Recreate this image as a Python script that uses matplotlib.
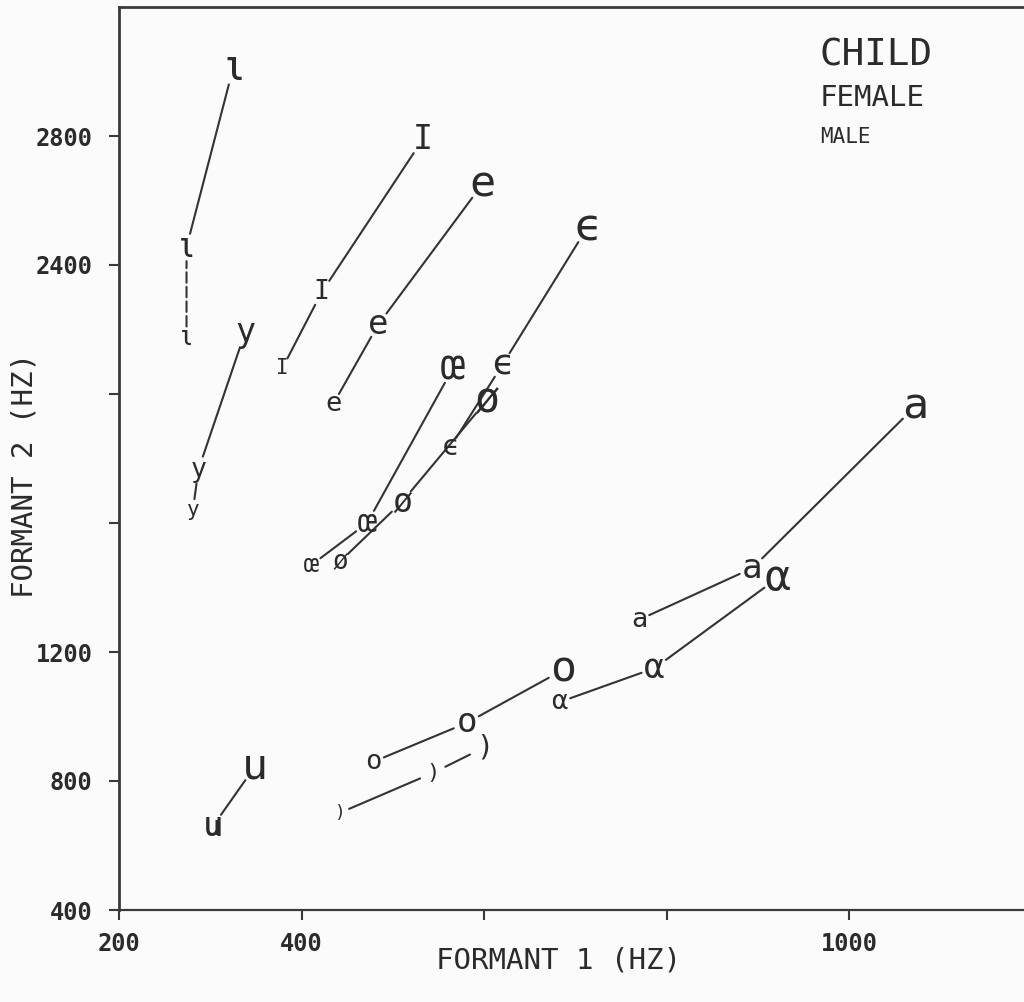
import matplotlib
matplotlib.use('Agg')
import matplotlib.pyplot as plt

plt.rcParams['font.family'] = ['DejaVu Sans Mono', 'DejaVu Sans']

# ---- data ----
vowels  = ['i', 'y', 'I', 'e', 'ε', 'œ', 'ø', 'a', 'ɑ', 'o', 'ɔ', 'u']
symbols = ['ι', 'y', 'I', 'e', 'ϵ', 'œ', 'ø', 'a', 'α', 'o', ')', 'u']

child_f1  = [325, 338, 533, 598, 713, 566, 603, 1072, 922, 687, 601, 349]
child_f2  = [3010, 2190, 2790, 2650, 2515, 2080, 1980, 1960, 1430, 1145, 905, 845]
female_f1 = [274, 287, 422, 484, 620, 472, 510, 894, 787, 581, 544, 303]
female_f2 = [2455, 1765, 2315, 2215, 2090, 1600, 1665, 1460, 1150, 980, 825, 660]
male_f1   = [274, 281, 379, 435, 563, 411, 442, 770, 683, 479, 441, 301]
male_f2   = [2175, 1640, 2080, 1970, 1835, 1470, 1480, 1300, 1045, 860, 700, 655]

xticks = [200, 400, 600, 800, 1000]
xticklabels = ['200', '400', '', '', '1000']
yticks = [400, 800, 1200, 1600, 2000, 2400, 2800]
yticklabels = ['400', '800', '1200', '', '', '2400', '2800']

groups = ['CHILD', 'FEMALE', 'MALE']

# ---- style ----
ink = '#2b2b2b'
bg = '#fbfbfb'
base_size = {'CHILD': 24, 'FEMALE': 19, 'MALE': 15}
shrink = {'CHILD': 12, 'FEMALE': 10, 'MALE': 8}
glyph_scale = {'ι': 1.3, 'y': 1.0, 'I': 1.0, 'e': 1.3, 'ϵ': 1.35, 'œ': 1.2,
               'ø': 1.25, 'a': 1.3, 'α': 1.3, 'o': 1.3, ')': 0.85, 'u': 1.3}

fig = plt.figure(figsize=(10.24, 10.02), dpi=100)
fig.patch.set_facecolor(bg)
ax = fig.add_axes([119 / 1024, 92 / 1002, 912.5 / 1024, 903 / 1002])
ax.set_facecolor(bg)
ax.set_xlim(200, 1200)
ax.set_ylim(400, 3200)

for s in ['left', 'top', 'bottom']:
    ax.spines[s].set_color('#3a3a3a')
ax.spines['left'].set_linewidth(2.0)
ax.spines['top'].set_linewidth(2.0)
ax.spines['bottom'].set_linewidth(1.6)
ax.spines['right'].set_visible(False)

ax.set_xticks(xticks)
ax.set_xticklabels(xticklabels)
ax.set_yticks(yticks)
ax.set_yticklabels(yticklabels)
ax.tick_params(axis='both', direction='out', length=7, width=1.5, color='#3a3a3a',
               labelsize=17, labelcolor=ink)
ax.tick_params(axis='y', pad=12)
ax.tick_params(axis='x', pad=9)
for lbl in ax.get_xticklabels() + ax.get_yticklabels():
    lbl.set_fontweight('bold')

pts = {
    'CHILD': (child_f1, child_f2),
    'FEMALE': (female_f1, female_f2),
    'MALE': (male_f1, male_f2),
}

# connecting lines male -> female -> child
for k, sym in enumerate(symbols):
    chain = ['MALE', 'FEMALE', 'CHILD']
    for a, b in zip(chain[:-1], chain[1:]):
        xa, ya = pts[a][0][k], pts[a][1][k]
        xb, yb = pts[b][0][k], pts[b][1][k]
        if (xa - xb) ** 2 + ((ya - yb) / 3) ** 2 < 30:
            continue
        ls = (0, (5, 2)) if (sym == 'ι' and a == 'MALE') else '-'
        ax.annotate('', xy=(xb, yb), xytext=(xa, ya),
                    arrowprops=dict(arrowstyle='-', color='#333333', lw=1.5,
                                    linestyle=ls,
                                    shrinkA=shrink[a], shrinkB=shrink[b]),
                    annotation_clip=False)

# vowel symbols
for g in groups:
    xs, ys = pts[g]
    for k, sym in enumerate(symbols):
        ax.text(xs[k], ys[k], sym, ha='center', va='center', color=ink,
                fontsize=base_size[g] * glyph_scale[sym], zorder=3)

# group key
ax.text(0.768, 0.946, 'CHILD', transform=ax.transAxes, fontsize=27,
        ha='left', va='center', color=ink)
ax.text(0.768, 0.899, 'FEMALE', transform=ax.transAxes, fontsize=21,
        ha='left', va='center', color=ink)
ax.text(0.768, 0.856, 'MALE', transform=ax.transAxes, fontsize=15,
        ha='left', va='center', color=ink)

fig.text(558 / 1024, 1 - 960 / 1002, 'FORMANT 1 (HZ)', ha='center', va='center',
         fontsize=21, color=ink)
fig.text(25 / 1024, 1 - 475 / 1002, 'FORMANT 2 (HZ)', ha='center', va='center',
         rotation=90, fontsize=21, color=ink)

fig.savefig('out.png', dpi=100, facecolor=bg)
